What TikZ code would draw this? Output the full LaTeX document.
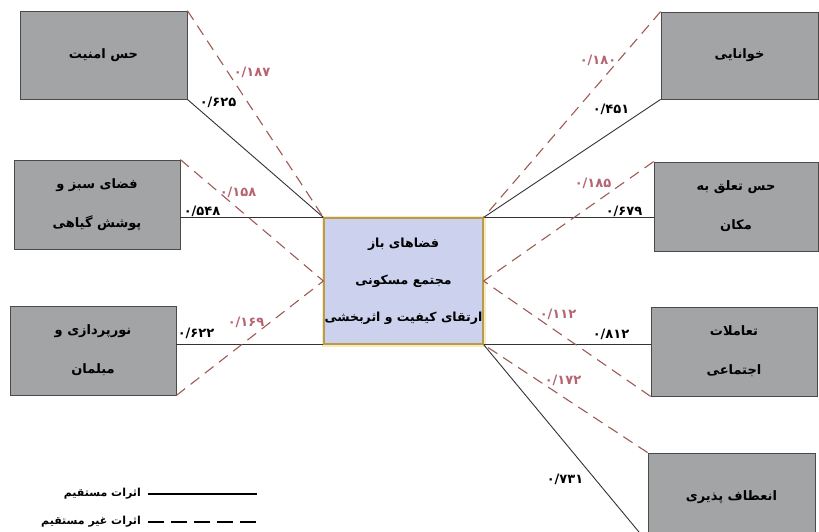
\documentclass[tikz,border=0pt]{standalone}
\usepackage{fontspec}
\TeXXeTstate=1
\newfontfamily\arabicfont[Script=Arabic]{DejaVu Sans}
\definecolor{boxfill}{HTML}{A2A4A5}
\definecolor{boxborder}{HTML}{4A4A4A}
\definecolor{centerfill}{HTML}{CCD2EE}
\definecolor{centerborder}{HTML}{B89A50}
\definecolor{centerglow}{HTML}{F7EBB8}
\definecolor{dashcol}{HTML}{A05A55}
\definecolor{redtext}{HTML}{B56470}
\begin{document}
\begin{tikzpicture}[x=1pt,y=-1pt]
\tikzset{
  box/.style={draw=boxborder, fill=boxfill, line width=0.8pt, inner sep=0pt, align=center,
    font=\arabicfont\bfseries\fontsize{13}{39}\selectfont},
  cbox/.style={draw=centerborder, fill=centerfill, line width=1.3pt, inner sep=0pt, align=center,
    preaction={draw=centerglow, line width=5pt},
    font=\arabicfont\bfseries\fontsize{12.5}{37}\selectfont},
  direct/.style={draw=black!80, line width=0.9pt},
  indirect/.style={draw=dashcol, line width=1.1pt, dash pattern=on 11pt off 7pt},
  blab/.style={font=\arabicfont\bfseries\fontsize{13}{15}\selectfont, text=black, inner sep=0pt},
  rlab/.style={font=\arabicfont\bfseries\fontsize{13}{15}\selectfont, text=redtext, inner sep=0pt},
  legtext/.style={font=\arabicfont\bfseries\fontsize{11}{12}\selectfont, inner sep=0pt, anchor=east},
}
\clip (0,0) rectangle (819,531);
\fill[white] (0,0) rectangle (819,531);

% boxes
\node[box, minimum width=167, minimum height=88] (L1) at (103.5,55) {\beginR حس امنیت\endR};
\node[box, minimum width=166, minimum height=89] (L2) at (97,204.5) {\beginR فضای سبز و\endR\\\beginR پوشش گیاهی\endR};
\node[box, minimum width=166, minimum height=89] (L3) at (93,350.5) {\beginR نورپردازی و\endR\\\beginR مبلمان\endR};
\node[cbox, minimum width=159, minimum height=126] (C) at (403.5,281) {\beginR فضاهای باز\endR\\\beginR مجتمع مسکونی\endR\\\beginR ارتقای کیفیت و اثربخشی\endR};
\node[box, minimum width=157, minimum height=87] (R1) at (739.5,55.5) {\beginR خوانایی\endR};
\node[box, minimum width=164, minimum height=89] (R2) at (736,206.5) {\beginR حس تعلق به\endR\\\beginR مکان\endR};
\node[box, minimum width=166, minimum height=89] (R3) at (734,351.5) {\beginR تعاملات\endR\\\beginR اجتماعی\endR};
\node[box, minimum width=167, minimum height=89] (R4) at (731.5,497.5) {\beginR انعطاف پذیری\endR};

% direct effects
\draw[direct] (L1.south east) -- (C.north west);
\draw[direct] (C.north west -| L2.east) -- (C.north west);
\draw[direct] (C.south west -| L3.east) -- (C.south west);
\draw[direct] (R1.south west) -- (C.north east);
\draw[direct] (C.north east -| R2.west) -- (C.north east);
\draw[direct] (C.south east -| R3.west) -- (C.south east);
\draw[direct] (C.south east) -- (R4.south west);

% indirect effects
\draw[indirect] (L1.north east) -- (C.north west);
\draw[indirect] (L2.north east) -- (C.west);
\draw[indirect] (L3.south east) -- (C.west);
\draw[indirect] (R1.north west) -- (C.north east);
\draw[indirect] (R2.north west) -- (C.east);
\draw[indirect] (R3.south west) -- (C.east);
\draw[indirect] (R4.north west) -- (C.south east);

% labels
\node[rlab] (n187) at (252,72) {۰/۱۸۷};
\node[blab] (n625) at (218,102) {۰/۶۲۵};
\node[rlab] (n158) at (238,192) {۰/۱۵۸};
\node[blab] (n548) at (202,211) {۰/۵۴۸};
\node[rlab] (n169) at (246,322) {۰/۱۶۹};
\node[blab] (n622) at (196,333) {۰/۶۲۲};
\node[rlab] (n180) at (598,60) {۰/۱۸۰};
\node[blab] (n451) at (611,109) {۰/۴۵۱};
\node[rlab] (n185) at (593,183) {۰/۱۸۵};
\node[blab] (n679) at (624,211) {۰/۶۷۹};
\node[rlab] (n112) at (558,314) {۰/۱۱۲};
\node[blab] (n812) at (611,334) {۰/۸۱۲};
\node[rlab] (n172) at (563,380) {۰/۱۷۲};
\node[blab] (n731) at (565,479) {۰/۷۳۱};

% legend
\coordinate (ls1) at (148,494);
\coordinate (ls2) at (257,494);
\coordinate (ld1) at (148,522);
\coordinate (ld2) at (257,522);
\draw[black, line width=2.8pt] (ls1) -- (ls2);
\draw[black, line width=2.8pt, dash pattern=on 16pt off 7pt] (ld1) -- (ld2);
\node[legtext] (lt1) at (141,494) {\beginR اثرات مستقیم\endR};
\node[legtext] (lt2) at (141,522) {\beginR اثرات غیر مستقیم\endR};
\end{tikzpicture}
\end{document}
